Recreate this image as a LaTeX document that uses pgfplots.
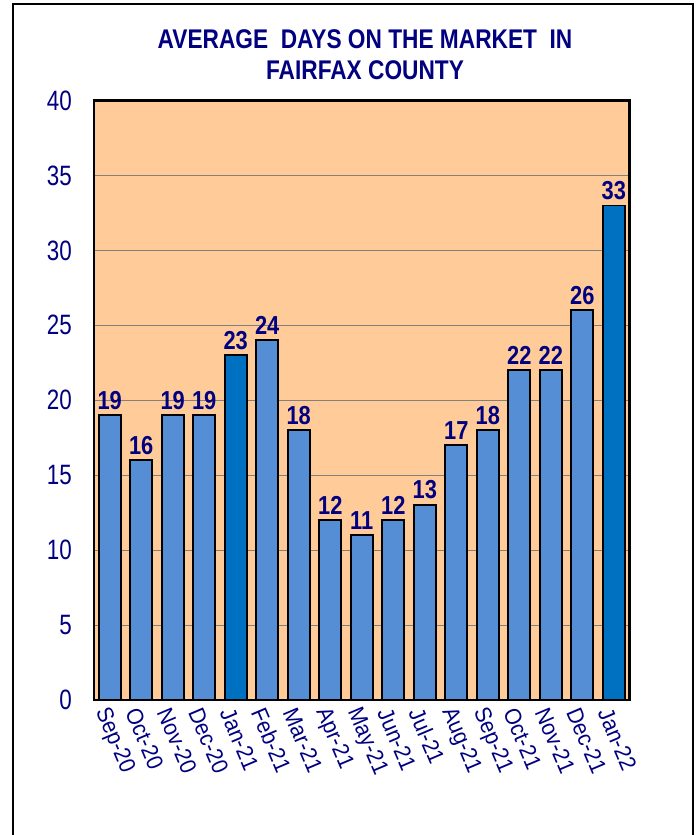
\documentclass[border=0pt]{standalone}
\usepackage{pgfplots}
\pgfplotsset{compat=1.18}
\usepackage{fontspec}
\setmainfont{Liberation Sans}
\newfontfamily\cfont{Liberation Sans}[FakeStretch=0.84]
\newfontfamily\yfont{Liberation Sans}[FakeStretch=0.8]
\newfontfamily\xfont{Liberation Sans}[FakeStretch=0.92]
\definecolor{navy}{HTML}{000080}
\definecolor{peach}{HTML}{FFCC99}
\definecolor{barblue}{HTML}{558ED5}
\definecolor{bardark}{HTML}{0070C0}
\begin{document}
\begin{tikzpicture}[x=1pt,y=1pt]
\useasboundingbox (0,0) rectangle (696,835);
\draw[line width=2pt] (12.5,-5) -- (12.5,830.5) -- (692.5,830.5) -- (692.5,-5);
\node[anchor=base, text=navy, font=\cfont\bfseries\fontsize{27}{30}\selectfont] at (365,786.7) {AVERAGE\ \ DAYS ON THE MARKET\ \ IN};
\node[anchor=base, text=navy, font=\cfont\bfseries\fontsize{27}{30}\selectfont] at (365,755.7) {FAIRFAX COUNTY};
\begin{axis}[
  at={(94pt,135pt)}, anchor=south west, scale only axis,
  width=535.5pt, height=599.5pt,
  xmin=-0.5, xmax=16.5, ymin=0, ymax=40,
  ytick={0,5,...,40}, xtick={0,...,16},
  xticklabels={Sep-20,Oct-20,Nov-20,Dec-20,Jan-21,Feb-21,Mar-21,Apr-21,May-21,Jun-21,Jul-21,Aug-21,Sep-21,Oct-21,Nov-21,Dec-21,Jan-22},
  axis background/.style={fill=peach},
  ymajorgrids, grid style={gray, line width=0.8pt},
  axis line style={line width=2.2pt},
  major tick length=0pt,
  /pgf/number format/assume math mode=true,
  yticklabel style={font=\yfont\fontsize{28}{30}\selectfont, text=navy, inner sep=0pt, xshift=-22pt},
  xticklabel style={rotate=-67, anchor=west, font=\xfont\fontsize{23}{24}\selectfont, text=navy, inner sep=0pt, yshift=-12pt, xshift=5pt},
  ybar, bar width=22pt,
  nodes near coords,
  every node near coord/.append style={font=\cfont\bfseries\fontsize{26}{30}\selectfont, text=navy, anchor=south, inner sep=0pt, yshift=5pt},
]
\addplot[fill=barblue, draw=black, line width=1.8pt, bar shift=0pt] coordinates {
(0,19) (1,16) (2,19) (3,19) (5,24) (6,18) (7,12) (8,11) (9,12) (10,13) (11,17) (12,18) (13,22) (14,22) (15,26)};
\addplot[fill=bardark, draw=black, line width=1.8pt, bar shift=0pt] coordinates {
(4,23) (16,33)};
\end{axis}
\end{tikzpicture}
\end{document}
